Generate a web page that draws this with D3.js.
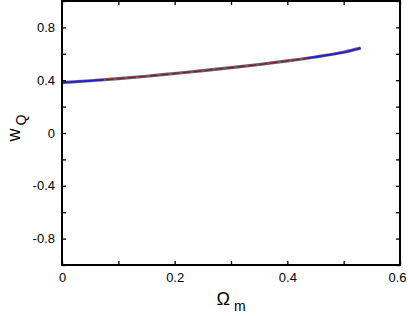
<!DOCTYPE html>
<html><head><meta charset="utf-8">
<script src="https://cdn.jsdelivr.net/npm/d3@7"></script>
<style>body{margin:0;background:#fff}svg{display:block}</style>
</head><body>
<script>
const omegaM = [0, 0.05, 0.1, 0.15, 0.2, 0.25, 0.3, 0.35, 0.4, 0.45, 0.5, 0.53];
const wQ     = [0.382, 0.396, 0.412, 0.430, 0.451, 0.472, 0.495, 0.519, 0.546, 0.576, 0.612, 0.643];
const xTicks = [0, 0.1, 0.2, 0.3, 0.4, 0.5, 0.6];
const xLabels = ["0", "", "0.2", "", "0.4", "", "0.6"];
const yTicks = [-1, -0.8, -0.6, -0.4, -0.2, 0, 0.2, 0.4, 0.6, 0.8, 1];
const yLabels = ["", "-0.8", "", "-0.4", "", "0", "", "0.4", "", "0.8", ""];

const W = 408, H = 316;
const m = {l: 62, r: 8, t: 1, b: 51};
const svg = d3.select("body").append("svg").attr("width", W).attr("height", H);
const x = d3.scaleLinear().domain([0, 0.6]).range([m.l, W - m.r]);
const y = d3.scaleLinear().domain([-1, 1]).range([H - m.b, m.t]);
const font = "Liberation Sans, Arial, Helvetica, sans-serif";

const pts = omegaM.map((d, i) => [d, wQ[i]]);
const line = d3.line().x(d => x(d[0])).y(d => y(d[1])).curve(d3.curveMonotoneX);

svg.append("path").attr("d", line(pts)).attr("fill", "none")
  .attr("stroke", "#45455a").attr("stroke-width", 3.2).attr("stroke-opacity", 0.85);
svg.append("path").attr("d", line(pts)).attr("fill", "none")
  .attr("stroke", "#a01010").attr("stroke-width", 1.2).attr("stroke-dasharray", "8,3");
svg.append("path").attr("d", line(pts)).attr("fill", "none")
  .attr("stroke", "#1a1aff").attr("stroke-width", 1.5).attr("stroke-dasharray", "42,205,70");

const tk = 4;
const axB = d3.axisBottom(x).tickValues(xTicks).tickSizeInner(-tk).tickSizeOuter(0)
  .tickFormat((d, i) => xLabels[i]).tickPadding(8);
const axT = d3.axisTop(x).tickValues(xTicks).tickSizeInner(-tk).tickSizeOuter(0).tickFormat("");
const axL = d3.axisLeft(y).tickValues(yTicks).tickSizeInner(-tk).tickSizeOuter(0)
  .tickFormat((d, i) => yLabels[i]).tickPadding(7);
const axR = d3.axisRight(y).tickValues(yTicks).tickSizeInner(-tk).tickSizeOuter(0).tickFormat("");

function style(g) {
  g.select(".domain").remove();
  g.selectAll("line").attr("stroke", "#000").attr("stroke-width", 1.3);
  g.selectAll("text").attr("font-family", font).attr("font-size", 13).attr("fill", "#000");
}
const gB = svg.append("g").attr("transform", `translate(0,${H - m.b})`).call(axB).call(style);
// keep the last label inside the canvas, as in the reference
gB.selectAll(".tick text").filter(d => d === 0.6).attr("text-anchor", "end").attr("dx", 6);
svg.append("g").attr("transform", `translate(0,${m.t})`).call(axT).call(style);
svg.append("g").attr("transform", `translate(${m.l},0)`).call(axL).call(style);
svg.append("g").attr("transform", `translate(${W - m.r},0)`).call(axR).call(style);

svg.append("rect").attr("x", m.l).attr("y", m.t).attr("width", W - m.l - m.r)
  .attr("height", H - m.t - m.b).attr("fill", "none").attr("stroke", "#000").attr("stroke-width", 2);

// x label
const xl = svg.append("text").attr("x", 231).attr("y", 305).attr("font-family", font)
  .attr("font-size", 18).attr("text-anchor", "middle");
xl.append("tspan").text("Ω");
xl.append("tspan").attr("font-size", 14).attr("dx", 4).attr("dy", 6).text("m");

// y label
const yl = svg.append("text").attr("transform", "translate(20,128) rotate(-90)")
  .attr("font-family", font).attr("font-size", 18).attr("text-anchor", "middle");
yl.append("tspan").text("w");
yl.append("tspan").attr("font-size", 14).attr("dx", 3).attr("dy", 6).text("Q");
</script>
</body></html>
